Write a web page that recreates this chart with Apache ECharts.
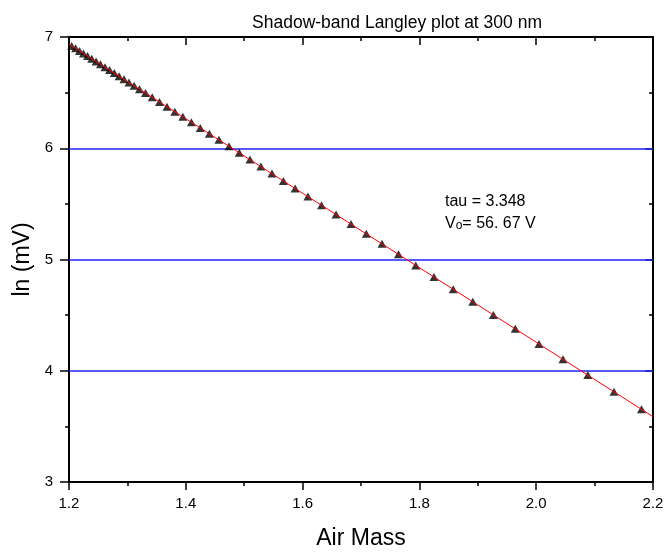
<!DOCTYPE html>
<html>
<head>
<meta charset="utf-8">
<title>Shadow-band Langley plot</title>
<script src="https://cdn.jsdelivr.net/npm/echarts@6/dist/echarts.min.js"></script>
<style>
  html, body { margin: 0; padding: 0; background: #fff; }
  #chart { width: 667px; height: 555px; }
</style>
</head>
<body>
<div id="chart"></div>
<script>
// 测量点：空气质量 / ln(mV)
const airMass = [
  1.2046, 1.2113, 1.2180, 1.2248, 1.2318, 1.2390, 1.2464, 1.2539, 1.2616, 1.2695,
  1.2776, 1.2858, 1.2942, 1.3027, 1.3115, 1.3207, 1.3310, 1.3425, 1.3550, 1.3678,
  1.3812, 1.3950, 1.4096, 1.4247, 1.4404, 1.4568, 1.4740, 1.4916, 1.5099, 1.5286,
  1.5476, 1.5671, 1.5873, 1.6091, 1.6324, 1.6572, 1.6829, 1.7091, 1.7360, 1.7642,
  1.7938, 1.8250, 1.8579, 1.8914, 1.9267, 1.9642, 2.0048, 2.0459, 2.0884, 2.1332,
  2.1803
];
const lnMv = [
  6.920, 6.898, 6.875, 6.852, 6.829, 6.805, 6.780, 6.755, 6.729, 6.703,
  6.676, 6.648, 6.620, 6.592, 6.562, 6.531, 6.497, 6.458, 6.416, 6.374,
  6.329, 6.283, 6.234, 6.183, 6.131, 6.076, 6.018, 5.959, 5.898, 5.835,
  5.772, 5.706, 5.639, 5.566, 5.488, 5.405, 5.319, 5.231, 5.141, 5.047,
  4.947, 4.843, 4.733, 4.621, 4.502, 4.377, 4.241, 4.103, 3.961, 3.811,
  3.653
];
// 拟合直线两端
const fitX = [1.2, 2.2];
const fitY = [6.935, 3.587];
// 蓝色水平参考线
const refLevels = [4, 5, 6];

const fontName = '"Liberation Sans", Arial, sans-serif';

let myChart = echarts.init(document.getElementById('chart'));

let pointData = airMass.map((x, i) => [x, lnMv[i]]);
let fitData = fitX.map((x, i) => [x, fitY[i]]);

// 坐标轴公共样式（四边框）
function frameAxis(extra) {
  return Object.assign({
    type: 'value',
    axisLine: { show: true, onZero: false, lineStyle: { color: '#000', width: 2 } },
    axisTick: { show: true, inside: false, length: 8, lineStyle: { color: '#000', width: 1.5 } },
    minorTick: { show: true, splitNumber: 2, length: 4, lineStyle: { color: '#000', width: 1.5 } },
    axisLabel: { show: false },
    splitLine: { show: false }
  }, extra);
}

myChart.setOption({
  animation: false,
  title: {
    text: 'Shadow-band Langley plot at 300 nm',
    left: 392,
    top: 9,
    textAlign: 'center',
    textStyle: { fontFamily: fontName, fontSize: 17.5, fontWeight: 'normal', color: '#000' }
  },
  grid: {
    left: 69,
    right: 14,
    top: 37,
    bottom: 73,
    containLabel: false,
    outerBoundsMode: 'none'
  },
  xAxis: [
    frameAxis({
      position: 'bottom',
      min: 1.2,
      max: 2.2,
      interval: 0.2,
      name: 'Air Mass',
      nameLocation: 'middle',
      nameGap: 45,
      nameTextStyle: { fontFamily: fontName, fontSize: 23, color: '#000' },
      axisLabel: {
        show: true,
        margin: 14,
        fontFamily: fontName,
        fontSize: 15,
        color: '#000',
        formatter: v => v.toFixed(1)
      }
    }),
    frameAxis({
      position: 'top',
      min: 1.2,
      max: 2.2,
      interval: 0.2,
      axisTick: { show: true, inside: true, length: 8, lineStyle: { color: '#000', width: 1.5 } }
    })
  ],
  yAxis: [
    frameAxis({
      position: 'left',
      min: 3,
      max: 7,
      interval: 1,
      name: 'ln (mV)',
      nameLocation: 'middle',
      nameGap: 34,
      nameTextStyle: { fontFamily: fontName, fontSize: 23, color: '#000' },
      axisTick: { show: true, inside: false, length: 9, lineStyle: { color: '#000', width: 1.5 } },
      axisLabel: { show: true, margin: 16, fontFamily: fontName, fontSize: 15, color: '#000' }
    }),
    frameAxis({
      position: 'right',
      min: 3,
      max: 7,
      interval: 1,
      axisTick: { show: true, inside: true, length: 8, lineStyle: { color: '#000', width: 1.5 } }
    })
  ],
  graphic: [
    {
      type: 'text',
      left: 445,
      top: 194,
      style: {
        text: 'tau = 3.348',
        font: '16px ' + fontName,
        fill: '#000'
      }
    },
    {
      type: 'text',
      left: 445,
      top: 216,
      style: {
        text: '{n|V}{s|o}{n|= 56. 67 V}',
        fill: '#000',
        rich: {
          n: { fontFamily: fontName, fontSize: 16, lineHeight: 18, verticalAlign: 'bottom' },
          s: { fontFamily: fontName, fontSize: 12, lineHeight: 14, verticalAlign: 'bottom' }
        }
      }
    }
  ],
  series: [
    {
      name: 'points',
      type: 'scatter',
      symbol: 'triangle',
      symbolSize: [9, 8],
      itemStyle: { color: '#000' },
      data: pointData,
      z: 3
    },
    {
      name: 'fit',
      type: 'line',
      showSymbol: false,
      symbol: 'none',
      lineStyle: { color: '#ff0000', width: 1 },
      data: fitData,
      z: 4,
      // 水平参考线
      markLine: {
        silent: true,
        symbol: 'none',
        label: { show: false },
        lineStyle: { color: '#2020ff', width: 1.5, type: 'solid' },
        data: refLevels.map(v => ({ yAxis: v })),
        z: 1
      }
    }
  ]
});
</script>
</body>
</html>
